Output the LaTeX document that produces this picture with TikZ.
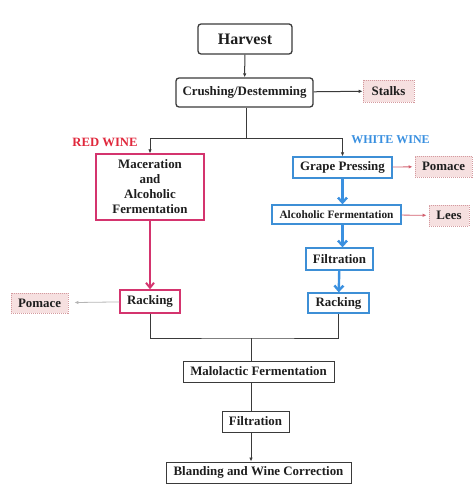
\documentclass[tikz,border=0pt]{standalone}
\usepackage{fontspec}
\setmainfont{Liberation Serif}
\usetikzlibrary{arrows.meta}
\definecolor{txt}{HTML}{1E1E1E}
\definecolor{magb}{HTML}{D4346E}
\definecolor{redw}{HTML}{E0283C}
\definecolor{blueb}{HTML}{3D8FD6}
\definecolor{bluew}{HTML}{3A90E0}
\definecolor{pinkf}{HTML}{F6E0E0}
\definecolor{pinkd}{HTML}{D49A9F}
\definecolor{pinka}{HTML}{D2606E}
\definecolor{graya}{HTML}{B5B5B5}
\definecolor{linec}{HTML}{3A3A3A}
\tikzset{
  box/.style={draw=linec, line width=1pt, text=txt, font=\bfseries\fontsize{12.9}{15}\selectfont, inner sep=0pt, align=center},
  rbox/.style={box, rounded corners=3pt, line width=1.3pt},
  redbox/.style={box, draw=magb, line width=1.3pt},
  bluebox/.style={box, draw=blueb, line width=1.3pt},
  waste/.style={box, draw=pinkd, dashed, dash pattern=on 1pt off 1pt, fill=pinkf, line width=0.8pt},
  conn/.style={draw=linec, line width=1pt},
  carr/.style={conn, -{Latex[length=4pt,width=3.5pt]}},
  magarr/.style={draw=magb, line width=2pt, -{Straight Barb[length=5pt,width=8pt,line width=2pt]}},
  bluarr/.style={draw=bluew, line width=2.4pt, -{Straight Barb[length=5pt,width=9pt,line width=2.4pt]}},
  pinkarr/.style={draw=pinka, line width=0.8pt, -{Latex[length=4pt,width=3.5pt]}},
  grayarr/.style={draw=graya, line width=0.8pt, -{Latex[length=4pt,width=3.5pt]}},
}
\begin{document}
\begin{tikzpicture}[x=1pt,y=-1pt]
\useasboundingbox (0,0) rectangle (474,497);
\node[rbox, minimum width=94pt, minimum height=30pt, font=\bfseries\fontsize{16}{17}\selectfont] (harv) at (245,39) {Harvest};
\node[rbox, minimum width=137pt, minimum height=29pt] (crush) at (244.5,92.5) {Crushing/Destemming};
\node[waste, minimum width=51pt, minimum height=22pt] (stalks) at (388.5,91) {Stalks};
\node[text=redw, font=\bfseries\fontsize{12.7}{13}\selectfont, inner sep=0pt] (redlab) at (105,142) {RED WINE};
\node[text=bluew, font=\bfseries\fontsize{12}{13}\selectfont, inner sep=0pt] (whitelab) at (390.5,140) {WHITE WINE};
\node[redbox, minimum width=108pt, minimum height=66pt] (mac) at (150,187) {Maceration\\and\\Alcoholic\\Fermentation};
\node[redbox, minimum width=60pt, minimum height=23pt] (rackr) at (150,301.5) {Racking};
\node[waste, minimum width=57pt, minimum height=20pt] (pomL) at (39.5,303) {Pomace};
\node[bluebox, minimum width=99pt, minimum height=21pt] (gp) at (342.5,167.5) {Grape Pressing};
\node[waste, minimum width=57pt, minimum height=21pt] (pomR) at (443.5,166.5) {Pomace};
\node[bluebox, minimum width=129pt, minimum height=19pt, font=\bfseries\fontsize{11.3}{12}\selectfont] (af) at (336.5,214.5) {Alcoholic Fermentation};
\node[waste, minimum width=40pt, minimum height=21pt] (lees) at (449,215.5) {Lees};
\node[bluebox, minimum width=67pt, minimum height=22pt] (filb) at (339.5,259) {Filtration};
\node[bluebox, minimum width=61pt, minimum height=20pt] (rackb) at (338.5,303) {Racking};
\node[box, minimum width=151pt, minimum height=21pt] (malo) at (258.5,371.5) {Malolactic Fermentation};
\node[box, minimum width=67pt, minimum height=21pt] (filt) at (255.5,421.5) {Filtration};
\node[box, minimum width=185pt, minimum height=21pt] (blend) at (258.5,472.5) {Blanding and Wine Correction};
\coordinate (split) at (246,139);
\coordinate (join) at (251,338);
% connectors
\draw[carr] (harv) -- (crush);
\draw[carr] (crush) -- (stalks);
\draw[conn] (crush.south -| split) -- (split);
\draw[carr] (split) -| (mac.north);
\draw[carr] (split) -| (gp.north);
\draw[magarr] (mac) -- (rackr);
\draw[grayarr, shorten >=6pt] (rackr) -- (pomL);
\draw[bluarr] (gp.south) -- (gp.south |- af.north);
\draw[bluarr] (gp.south |- af.south) -- (gp.south |- filb.north);
\draw[bluarr] (filb) -- (rackb);
\draw[pinkarr, shorten >=2pt] (gp) -- (pomR);
\draw[pinkarr, shorten >=2pt] (af) -- (lees);
\draw[conn] (rackr.south) |- (join) -| (rackb.south);
\draw[conn] (join) -- (join |- malo.north);
\draw[conn] (malo.south -| join) -- (filt.north -| join);
\draw[carr] (filt.south -| join) -- (blend.north -| join);
\end{tikzpicture}
\end{document}
